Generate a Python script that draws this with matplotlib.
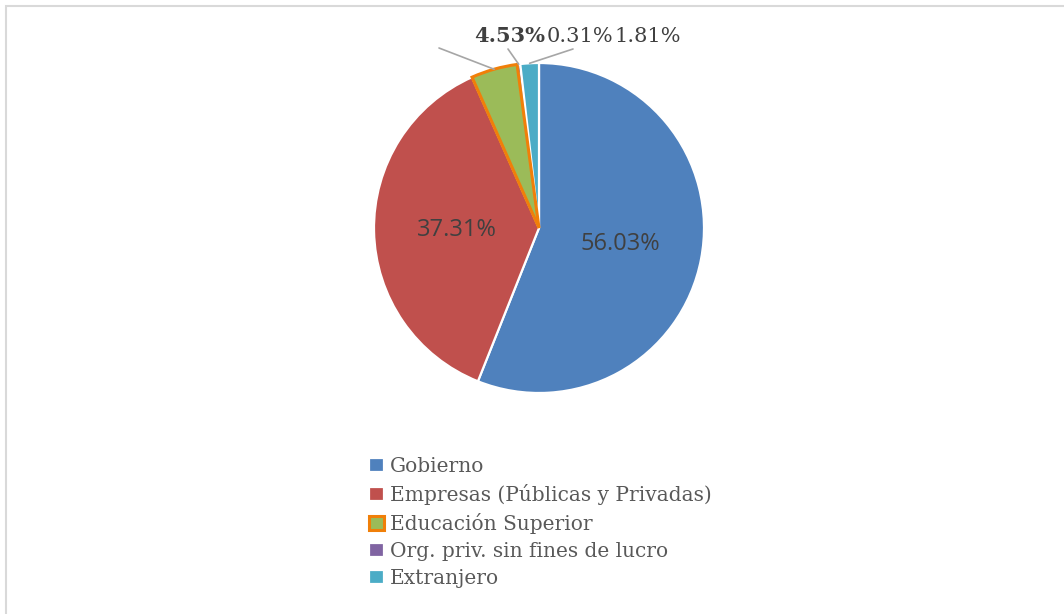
import numpy as np
import matplotlib
matplotlib.use("Agg")
import matplotlib.pyplot as plt
from matplotlib.patches import Rectangle

# data
categories = ["Gobierno", "Empresas (Públicas y Privadas)", "Educación Superior",
              "Org. priv. sin fines de lucro", "Extranjero"]
shares = [56.03, 37.31, 4.53, 0.31, 1.81]
colors = ["#4F81BD", "#C0504D", "#9BBB59", "#8064A2", "#4BACC6"]
inside_labels = [True, True, False, False, False]
bold_labels = [False, False, True, False, False]

W, H = 1064, 614
fig = plt.figure(figsize=(W / 100, H / 100), dpi=100)

# pie centre (539, 228) px, radius 165 px
cx, cy, r = 539, 228, 165
ax = fig.add_axes([(cx - r) / W, (H - cy - r) / H, 2 * r / W, 2 * r / H])

wedges, _ = ax.pie(shares, colors=colors, startangle=90, counterclock=False,
                   radius=1.0, wedgeprops=dict(edgecolor="white", linewidth=1.6),
                   normalize=True)
ax.set_xlim(-1, 1)
ax.set_ylim(-1, 1)
ax.axis("off")
for w in wedges:
    w.set_clip_on(False)
# highlighted slice
wedges[2].set_edgecolor("#F07F09")
wedges[2].set_linewidth(2.2)
wedges[2].set_zorder(3)

# label positions outside (pixels: centre x, centre y) and leader start points
out_pos = {2: (510, 36), 3: (580, 36), 4: (648, 36)}
leader_start = {2: (439, 48), 3: (508, 49), 4: (573, 49)}

for i, w in enumerate(wedges):
    mid = np.deg2rad((w.theta1 + w.theta2) / 2)
    txt = f"{shares[i]:.2f}%"
    if inside_labels[i]:
        ax.text(0.5 * np.cos(mid), 0.5 * np.sin(mid), txt, ha="center", va="center",
                fontsize=17, color="#404040", family="Open Sans")
    else:
        px, py = out_pos[i]
        fig.text(px / W, 1 - py / H, txt, ha="center", va="center", fontsize=15,
                 color="#404040", family="DejaVu Serif",
                 fontweight="bold" if bold_labels[i] else "normal")
        sx, sy = leader_start[i]
        ax.annotate("", xy=(1.0 * np.cos(mid), 1.0 * np.sin(mid)), xycoords="data",
                    xytext=(sx, H - sy), textcoords="figure pixels",
                    arrowprops=dict(arrowstyle="-", color="#A6A6A6", lw=1.2,
                                    shrinkA=0, shrinkB=0))

leg = fig.legend(wedges, categories, loc="upper left",
                 bbox_to_anchor=(369 / W, 1 - 457 / H), frameon=False,
                 prop=dict(family="DejaVu Serif", size=14.5),
                 handlelength=0.72, handleheight=0.72, handletextpad=0.3,
                 labelspacing=0.4, borderaxespad=0, borderpad=0)
for t in leg.get_texts():
    t.set_color("#595959")

# chart border
fig.patches.append(Rectangle((6 / W, -0.1), 1.2, 1 - 6 / H + 0.1,
                             transform=fig.transFigure, fill=False,
                             edgecolor="#D9D9D9", lw=1.5))

fig.savefig("out.png", dpi=100)
